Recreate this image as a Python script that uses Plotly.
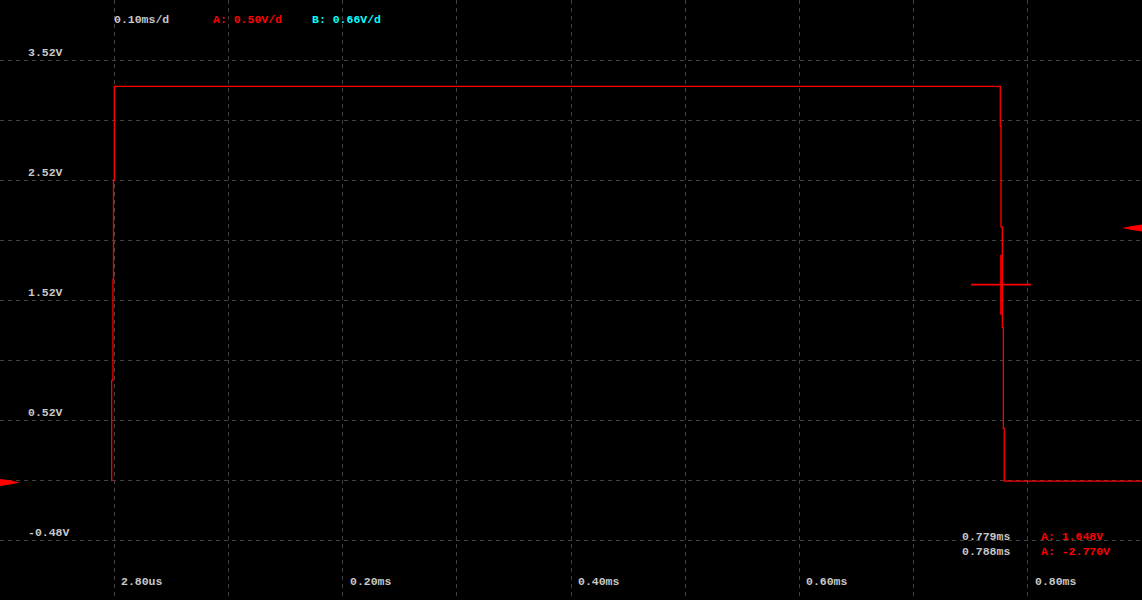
import plotly.graph_objects as go

# ---- data ----
# channel A trace samples: time in ms, voltage in V (vertical step at each time)
t_ms = [0.0006, 0.0017, 0.0022, 0.0029, 0.7787, 0.7793, 0.7805, 0.7814, 0.7822, 0.9028]
v_a = [0.01, 0.85, 1.69, 2.52, 3.30, 2.97, 2.13, 1.29, 0.45, 0.01]

# axis / grid definition
x_min, x_max = -0.0972, 0.9028       # ms
y_min, y_max = -0.98, 4.02           # V
x_grid = [0.0028 + 0.1 * k for k in range(9)]
y_grid = [3.52, 3.02, 2.52, 2.02, 1.52, 1.02, 0.52, 0.02, -0.48]

x_tick_vals = [0.0028, 0.2028, 0.4028, 0.6028, 0.8028]
x_tick_labels = ["2.80us", "0.20ms", "0.40ms", "0.60ms", "0.80ms"]
y_tick_vals = [3.52, 2.52, 1.52, 0.52, -0.48]
y_tick_labels = ["3.52V", "2.52V", "1.52V", "0.52V", "-0.48V"]

header_texts = ["0.10ms/d", "A: 0.50V/d", "B: 0.66V/d"]
header_colors = ["#c8c8c8", "#ff0000", "#00ffff"]

cursor_t = 0.7793
cursor_v = 1.648
cursor_rows = [("0.779ms", "A: 1.648V"), ("0.788ms", "A: -2.770V")]

ground_level = 0.0
trigger_level = 2.12

W, H = 1142, 600
FONT = "Liberation Mono"
GRAY = "#c8c8c8"
RED = "#ff0000"
SH = -2  # text x correction (px)

fig = go.Figure()

fig.add_trace(go.Scatter(
    x=t_ms, y=v_a, mode="lines", line=dict(color=RED, width=1.3, shape="vh"),
    hoverinfo="skip", showlegend=False))

# cursor crosshair
dx = 30 / W * (x_max - x_min)
dy = 30 / H * (y_max - y_min)
fig.add_trace(go.Scatter(
    x=[cursor_t - dx, cursor_t + dx, None, cursor_t, cursor_t],
    y=[cursor_v, cursor_v, None, cursor_v - dy, cursor_v + dy],
    mode="lines", line=dict(color=RED, width=1.6), hoverinfo="skip", showlegend=False))

# level markers (ground at left, trigger at right)
hv = 3.5 / H * (y_max - y_min)
wl = 20 / W
fig.add_shape(type="path", xref="paper", yref="y", fillcolor=RED, line=dict(width=0),
              path=f"M 0 {ground_level - hv} L 0 {ground_level + hv} L {wl*0.5} {ground_level + hv*0.6} L {wl} {ground_level} L {wl*0.5} {ground_level - hv*0.6} Z")
fig.add_shape(type="path", xref="paper", yref="y", fillcolor=RED, line=dict(width=0),
              path=f"M 1 {trigger_level - hv} L 1 {trigger_level + hv} L {1 - wl*0.5} {trigger_level + hv*0.6} L {1 - wl} {trigger_level} L {1 - wl*0.5} {trigger_level - hv*0.6} Z")

font = dict(family=FONT, size=11.5, color=GRAY)
common = dict(showarrow=False, borderpad=0, xanchor="left", yanchor="middle")
ann = []
hx = [115, 214, 313]
for txt, col, px in zip(header_texts, header_colors, hx):
    ann.append(dict(text=f"<b>{txt}</b>", x=(px + SH) / W, y=1 - 20 / H, xref="paper", yref="paper",
                    font=dict(family=FONT, size=11.5, color=col), **common))
for v, lab in zip(y_tick_vals, y_tick_labels):
    ann.append(dict(text=f"<b>{lab}</b>", x=(29 + SH) / W, y=v, xref="paper", yref="y", yshift=8,
                    font=font, **common))
for t, lab in zip(x_tick_vals, x_tick_labels):
    ann.append(dict(text=f"<b>{lab}</b>", x=t, y=1 - 581 / H, xref="x", yref="paper", xshift=8 + SH,
                    font=font, **common))
for i, (tt, vv) in enumerate(cursor_rows):
    yy = 1 - (536 + 15 * i) / H
    ann.append(dict(text=f"<b>{tt}</b>", x=(963 + SH) / W, y=yy, xref="paper", yref="paper",
                    font=font, **common))
    ann.append(dict(text=f"<b>{vv}</b>", x=(1042 + SH) / W, y=yy, xref="paper", yref="paper",
                    font=dict(family=FONT, size=11.5, color=RED), **common))

fig.update_layout(
    width=W, height=H, margin=dict(l=0, r=0, t=0, b=0),
    paper_bgcolor="#000000", plot_bgcolor="#000000",
    annotations=ann, showlegend=False,
    xaxis=dict(range=[x_min, x_max], tickvals=x_grid, showticklabels=False,
               showgrid=True, gridcolor="#444444", gridwidth=1, griddash="4px,4px",
               zeroline=False, showline=False, ticks=""),
    yaxis=dict(range=[y_min, y_max], tickvals=y_grid, showticklabels=False,
               showgrid=True, gridcolor="#444444", gridwidth=1, griddash="4px,4px",
               zeroline=False, showline=False, ticks=""),
)

fig.write_html("out.html", config={"displayModeBar": False},
               post_script="document.body.style.margin='0';document.body.style.overflow='hidden';document.body.style.background='#000';")
